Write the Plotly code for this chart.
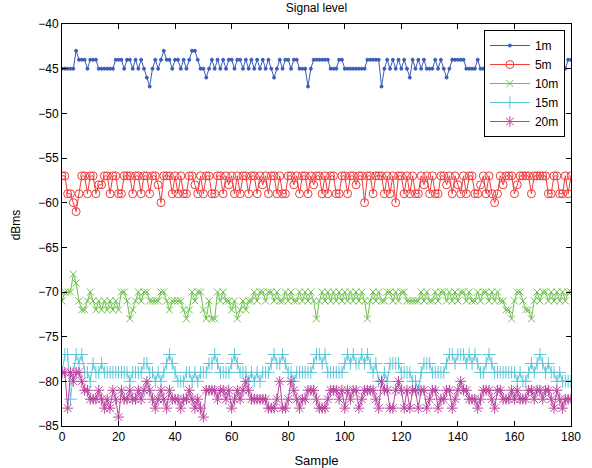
import plotly.graph_objects as go

# ---- data ----
series_names = ["1m", "5m", "10m", "15m", "20m"]

s1m = [
    -45,-45,-45,-45,-45,-43,-44,-44,-44,-45,
    -44,-44,-44,-45,-45,-45,-45,-45,-45,-44,
    -44,-44,-45,-44,-44,-45,-44,-45,-44,-45,
    -46,-47,-45,-44,-45,-44,-43,-44,-44,-45,
    -44,-44,-45,-44,-45,-44,-43,-43,-44,-45,
    -45,-46,-45,-44,-45,-44,-45,-44,-45,-44,
    -44,-45,-44,-44,-45,-44,-45,-44,-45,-44,
    -45,-44,-45,-44,-45,-46,-45,-44,-45,-44,
    -44,-45,-44,-44,-45,-45,-45,-47,-45,-44,
    -44,-44,-44,-44,-44,-45,-45,-45,-44,-44,
    -45,-45,-45,-45,-45,-45,-45,-45,-44,-44,
    -44,-44,-44,-47,-45,-44,-45,-44,-45,-44,
    -45,-44,-45,-46,-44,-45,-44,-45,-44,-45,
    -45,-45,-44,-45,-44,-45,-46,-45,-44,-44,
    -44,-44,-44,-45,-45,-45,-45,-44,-45,-45,
    -45,-45,-45,-44,-45,-45,-45,-45,-45,-45,
    -45,-45,-44,-45,-45,-45,-45,-45,-45,-45,
    -45,-45,-45,-45,-45,-45,-44,-44,-45,-44,
    -44,
]

s5m = [
    -57,-57,-59,-59,-60,-61,-59,-57,-57,-59,
    -57,-57,-59,-58,-58,-57,-57,-59,-57,-57,
    -59,-59,-57,-57,-57,-59,-57,-57,-59,-57,
    -57,-59,-57,-57,-58,-60,-57,-57,-57,-59,
    -57,-59,-57,-59,-59,-57,-57,-58,-59,-57,
    -59,-57,-57,-59,-59,-57,-57,-59,-57,-58,
    -57,-59,-57,-59,-57,-57,-59,-57,-57,-59,
    -57,-58,-57,-59,-57,-57,-59,-57,-59,-59,
    -57,-57,-58,-57,-59,-57,-57,-59,-57,-58,
    -57,-57,-59,-57,-59,-57,-57,-59,-59,-57,
    -57,-59,-57,-57,-58,-57,-57,-60,-57,-57,
    -59,-57,-57,-57,-59,-57,-59,-57,-60,-57,
    -57,-59,-57,-59,-57,-59,-59,-57,-58,-57,
    -59,-57,-59,-59,-57,-57,-58,-57,-59,-57,
    -58,-59,-57,-59,-57,-57,-59,-59,-58,-57,
    -59,-57,-59,-60,-59,-57,-58,-57,-57,-57,
    -59,-58,-57,-57,-57,-57,-59,-57,-57,-57,
    -57,-57,-59,-59,-57,-57,-59,-59,-57,-59,
    -57,
]

s10m = [
    -71,-70,-70,-70,-68,-69,-71,-72,-72,-71,
    -70,-71,-72,-71,-72,-71,-72,-71,-72,-71,
    -72,-70,-70,-71,-73,-72,-71,-70,-71,-70,
    -70,-71,-71,-71,-71,-70,-70,-71,-72,-71,
    -71,-71,-71,-72,-73,-72,-70,-71,-70,-70,
    -72,-73,-71,-73,-73,-70,-71,-70,-71,-71,
    -72,-71,-73,-72,-71,-72,-71,-71,-70,-71,
    -70,-70,-71,-70,-70,-71,-70,-71,-71,-70,
    -71,-70,-71,-71,-70,-71,-70,-71,-70,-71,
    -73,-71,-70,-71,-70,-71,-70,-71,-70,-71,
    -70,-71,-70,-71,-70,-71,-70,-71,-73,-71,
    -70,-71,-70,-71,-71,-70,-70,-71,-70,-71,
    -70,-70,-71,-71,-71,-71,-71,-70,-71,-70,
    -71,-71,-70,-71,-70,-70,-71,-70,-71,-70,
    -71,-70,-70,-71,-70,-71,-71,-70,-71,-70,
    -70,-71,-70,-71,-70,-71,-71,-72,-72,-73,
    -71,-70,-70,-71,-72,-72,-73,-71,-70,-71,
    -70,-70,-71,-70,-71,-70,-71,-70,-71,-70,
    -70,
]

s15m = [
    -79,-77,-77,-82,-79,-77,-78,-77,-79,-79,
    -80,-78,-79,-79,-78,-79,-79,-79,-79,-79,
    -79,-79,-79,-79,-80,-79,-79,-79,-79,-78,
    -78,-79,-79,-80,-79,-80,-79,-78,-77,-78,
    -79,-80,-80,-80,-79,-79,-80,-79,-80,-79,
    -79,-79,-78,-78,-77,-78,-79,-79,-79,-79,
    -78,-77,-78,-79,-79,-79,-80,-79,-80,-79,
    -80,-79,-79,-79,-78,-77,-78,-78,-77,-78,
    -79,-79,-80,-79,-79,-79,-79,-79,-79,-78,
    -77,-77,-78,-77,-79,-79,-79,-79,-79,-79,
    -78,-77,-78,-77,-78,-78,-77,-78,-77,-78,
    -79,-78,-80,-80,-79,-80,-78,-78,-78,-78,
    -79,-79,-79,-79,-80,-80,-81,-79,-78,-78,
    -78,-79,-79,-79,-79,-79,-78,-77,-77,-78,
    -77,-77,-77,-78,-77,-78,-77,-78,-79,-79,
    -78,-77,-78,-79,-79,-79,-79,-79,-79,-79,
    -79,-80,-79,-80,-80,-79,-78,-79,-78,-77,
    -78,-79,-78,-79,-79,-80,-79,-80,-80,-80,
    -80,
]

s20m = [
    -79,-79,-83,-79,-80,-79,-79,-80,-81,-81,
    -82,-82,-82,-81,-82,-83,-82,-83,-81,-82,
    -84,-81,-82,-82,-81,-82,-82,-81,-82,-81,
    -80,-81,-82,-83,-82,-81,-82,-83,-81,-82,
    -82,-82,-83,-82,-82,-81,-82,-83,-82,-83,
    -84,-81,-81,-81,-81,-82,-81,-81,-82,-81,
    -83,-82,-81,-82,-81,-80,-81,-82,-82,-82,
    -82,-82,-82,-83,-83,-83,-82,-80,-83,-83,
    -82,-80,-81,-82,-83,-82,-82,-81,-81,-81,
    -82,-83,-83,-83,-82,-81,-81,-81,-82,-81,
    -83,-81,-82,-81,-81,-83,-82,-81,-81,-81,
    -81,-82,-83,-80,-81,-81,-83,-83,-81,-80,
    -81,-83,-81,-83,-81,-81,-83,-81,-81,-83,
    -82,-81,-81,-83,-82,-82,-81,-81,-83,-82,
    -81,-80,-81,-81,-82,-82,-82,-83,-82,-81,
    -81,-81,-82,-83,-81,-81,-82,-82,-82,-81,
    -82,-81,-82,-82,-82,-81,-81,-82,-81,-81,
    -82,-81,-81,-82,-83,-81,-82,-83,-82,-82,
    -82,
]

x_ticks = [0, 20, 40, 60, 80, 100, 120, 140, 160, 180]
y_ticks = [-85, -80, -75, -70, -65, -60, -55, -50, -45, -40]

# ---- styling ----
all_series = [s1m, s5m, s10m, s15m, s20m]
colors = ["#3a5cb8", "#f03a3a", "#6cc04a", "#5cc6d8", "#b8449f"]
symbols = ["circle", "circle-open", "x-thin-open", "cross-thin-open", "asterisk-open"]
sizes = [3, 8, 7, 9, 9]

fig = go.Figure()
for name, ys, c, sym, sz in zip(series_names, all_series, colors, symbols, sizes):
    fig.add_trace(go.Scatter(
        x=list(range(len(ys))), y=ys, name=name, mode="lines+markers",
        line=dict(color=c, width=1),
        marker=dict(symbol=sym, size=sz, color=c, line=dict(color=c, width=1)),
    ))

font = "Liberation Sans, Arial, Helvetica, sans-serif"
axis_common = dict(
    showline=True, linecolor="black", linewidth=1, mirror="ticks",
    ticks="inside", ticklen=5, tickcolor="black", showgrid=False, zeroline=False,
    automargin=False,
    tickfont=dict(family=font, size=12, color="black"),
)

fig.update_layout(
    width=592, height=468,
    margin=dict(l=62, r=21, t=24, b=42, autoexpand=False),
    paper_bgcolor="white", plot_bgcolor="white",
    font=dict(family=font, size=12, color="black"),
    title=dict(text="Signal level", x=0.5, xref="paper", xanchor="center",
               y=0.983, yanchor="middle", font=dict(family=font, size=12)),
    xaxis=dict(range=[0, 180], tickvals=x_ticks, title=dict(text="Sample", font=dict(size=13)), **axis_common),
    yaxis=dict(range=[-85, -40], tickvals=y_ticks, title=dict(text="dBms", font=dict(size=12)), **axis_common),
    legend=dict(x=0.988, y=0.985, xanchor="right", yanchor="top",
                bgcolor="white", bordercolor="black", borderwidth=1,
                font=dict(family=font, size=12), tracegroupgap=0, itemwidth=40),
    showlegend=True,
)

fig.write_html("out.html", config={"displayModeBar": False},
               post_script="document.body.style.margin='0';")
